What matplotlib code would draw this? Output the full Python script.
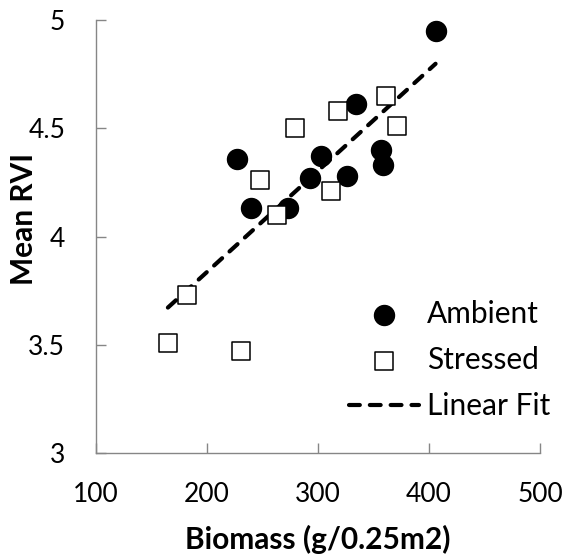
import numpy as np
import matplotlib.pyplot as plt

# biomass (g/0.25m2) and mean RVI per plot
ambient_x = [406, 334, 357, 359, 227, 303, 293, 326, 240, 273]
ambient_y = [4.95, 4.61, 4.40, 4.33, 4.36, 4.37, 4.27, 4.28, 4.13, 4.13]
stressed_x = [361, 318, 279, 371, 248, 312, 263, 182, 165, 231]
stressed_y = [4.65, 4.58, 4.50, 4.51, 4.26, 4.21, 4.10, 3.73, 3.51, 3.47]

xticks = [100, 200, 300, 400, 500]
yticks = [3, 3.5, 4, 4.5, 5]

plt.rcParams['font.family'] = ['Lato', 'DejaVu Sans']

fig = plt.figure(figsize=(5.64, 5.54), dpi=100)
ax = fig.add_axes([0.1697, 0.1818, 0.9574 - 0.1697, 0.9639 - 0.1818])

ax.scatter(ambient_x, ambient_y, s=14.4**2, c='black', marker='o', label='Ambient', zorder=3)
ax.scatter(stressed_x, stressed_y, s=13.5**2, facecolors='white', edgecolors='black',
           linewidths=1.1, marker='s', label='Stressed', zorder=3)

# least squares line over both groups
all_x = np.array(ambient_x + stressed_x)
all_y = np.array(ambient_y + stressed_y)
b1, b0 = np.polyfit(all_x, all_y, 1)
xs = np.array([all_x.min(), all_x.max()])
ax.plot(xs, b0 + b1 * xs, color='black', lw=3.0, dashes=(2.6, 2.4),
        dash_capstyle='round', label='Linear Fit', zorder=2)

ax.set_xlim(100, 500)
ax.set_ylim(3, 5)
ax.set_xticks(xticks)
ax.set_yticks(yticks)
ax.set_yticklabels(['3', '3.5', '4', '4.5', '5'])

for s in ['top', 'right']:
    ax.spines[s].set_visible(False)
for s in ['left', 'bottom']:
    ax.spines[s].set_color('#868686')
    ax.spines[s].set_linewidth(1.0)

ax.tick_params(axis='both', direction='in', length=7, width=1.0, color='#868686',
               labelsize=19)
ax.tick_params(axis='y', pad=22)
ax.tick_params(axis='x', pad=21)

ax.set_xlabel('Biomass (g/0.25m2)', fontsize=21.5, fontweight='bold')
ax.set_ylabel('Mean RVI', fontsize=21.5, fontweight='bold')
ax.xaxis.set_label_coords(0.5, -0.165)
ax.yaxis.set_label_coords(-0.13, 0.541)

ax.legend(loc='upper left', bbox_to_anchor=(0.57, 0.353), frameon=False, fontsize=21.5,
          handlelength=2.33, handletextpad=0.27, labelspacing=0.6, borderpad=0,
          borderaxespad=0)

fig.savefig('out.png', dpi=100)
